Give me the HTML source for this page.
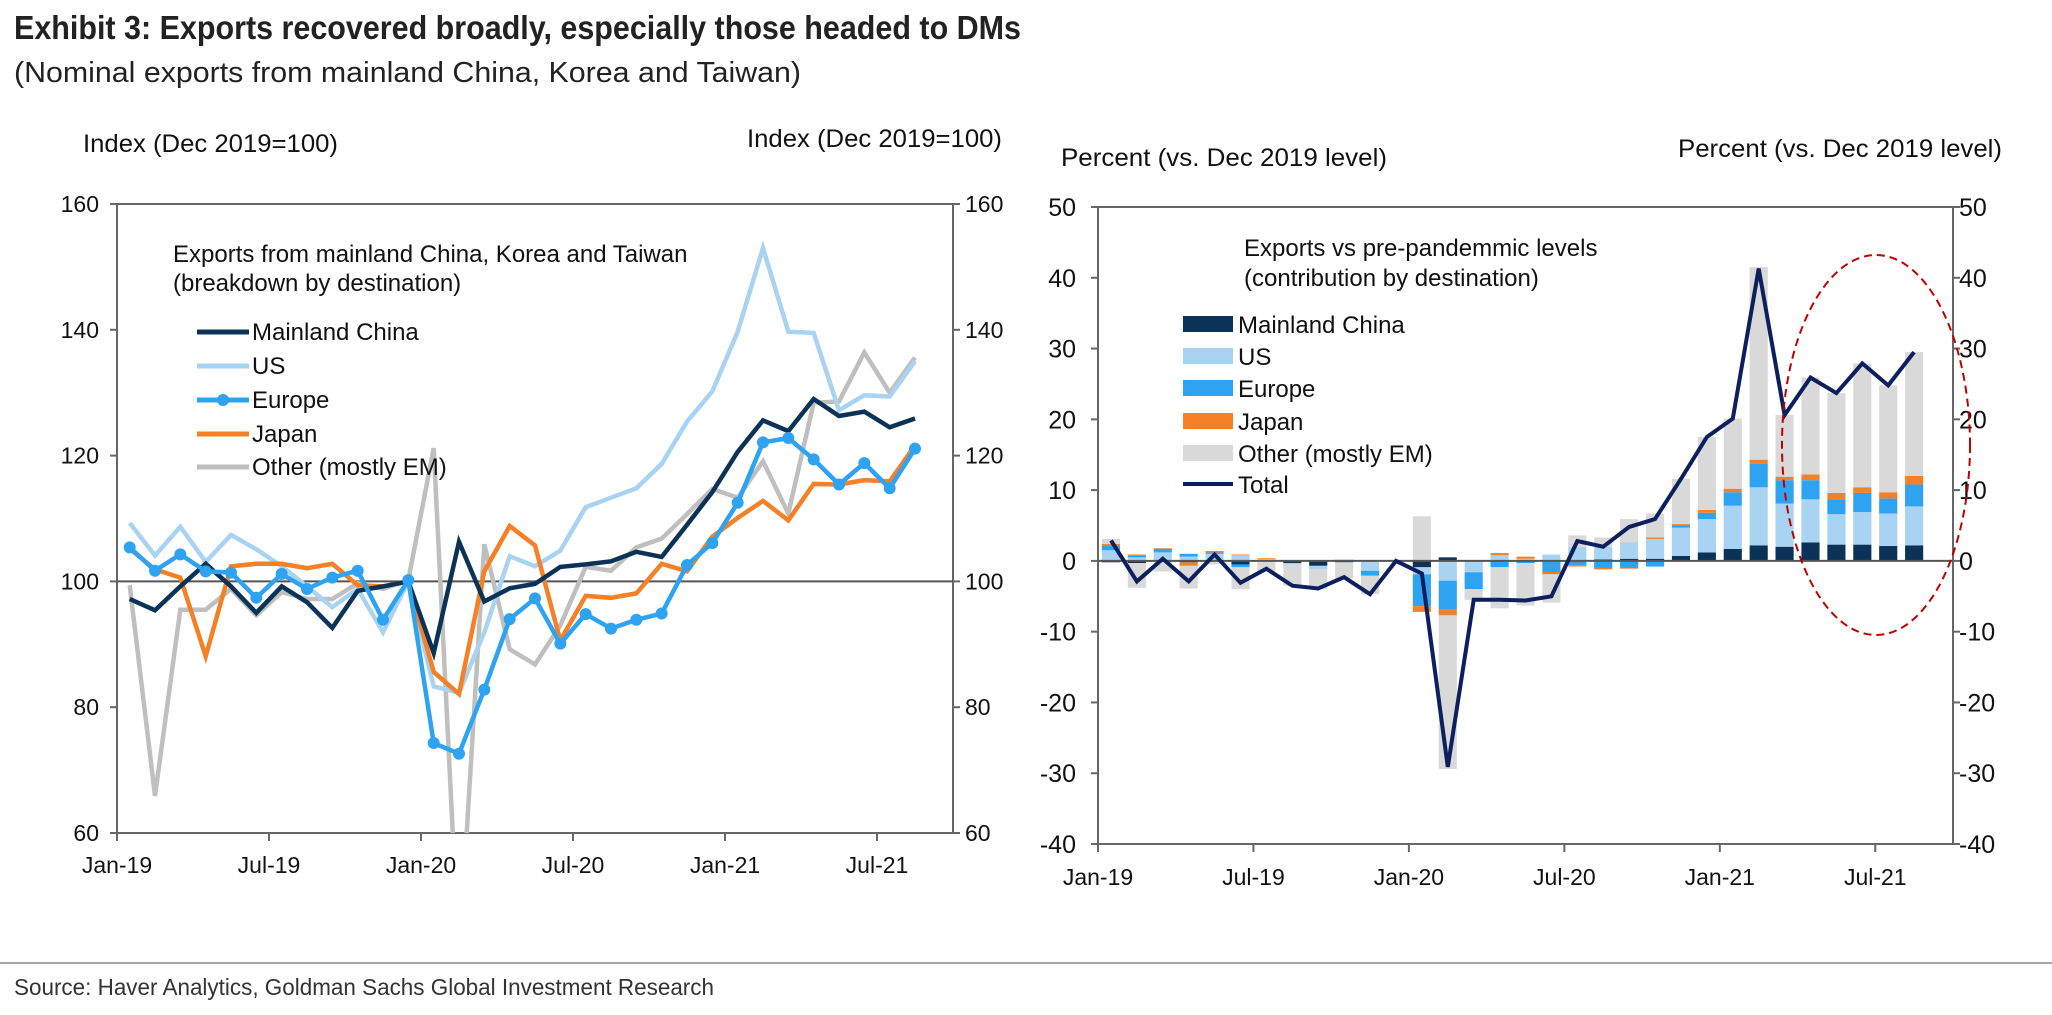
<!DOCTYPE html>
<html><head><meta charset="utf-8"><style>
html,body{margin:0;padding:0;background:#fff;}
svg{display:block;font-family:"Liberation Sans Narrow","Liberation Sans",Arial,sans-serif;}
</style></head><body>
<svg id="chart" width="2052" height="1015" viewBox="0 0 2052 1015" xmlns="http://www.w3.org/2000/svg">
<text x="14" y="39" font-size="33" font-weight="bold" fill="#222" textLength="1007" lengthAdjust="spacingAndGlyphs">Exhibit 3: Exports recovered broadly, especially those headed to DMs</text>
<text x="14" y="82" font-size="29" fill="#222" textLength="787" lengthAdjust="spacingAndGlyphs">(Nominal exports from mainland China, Korea and Taiwan)</text>
<text x="83" y="152" font-size="25" fill="#111" textLength="255" lengthAdjust="spacingAndGlyphs">Index (Dec 2019=100)</text>
<text x="747" y="147" font-size="25" fill="#111" textLength="255" lengthAdjust="spacingAndGlyphs">Index (Dec 2019=100)</text>
<text x="1061" y="166" font-size="25" fill="#111" textLength="326" lengthAdjust="spacingAndGlyphs">Percent (vs. Dec 2019 level)</text>
<text x="1678" y="157" font-size="25" fill="#111" textLength="324" lengthAdjust="spacingAndGlyphs">Percent (vs. Dec 2019 level)</text>
<line x1="0" y1="963" x2="2052" y2="963" stroke="#888" stroke-width="1.5"/>
<text x="14" y="995" font-size="23" fill="#333" textLength="700" lengthAdjust="spacingAndGlyphs">Source: Haver Analytics, Goldman Sachs Global Investment Research</text>
<g id="left"></g>
<g id="right"></g>
</svg>
<script>
const months = ["Jan-19","Feb-19","Mar-19","Apr-19","May-19","Jun-19","Jul-19","Aug-19","Sep-19","Oct-19","Nov-19","Dec-19","Jan-20","Feb-20","Mar-20","Apr-20","May-20","Jun-20","Jul-20","Aug-20","Sep-20","Oct-20","Nov-20","Dec-20","Jan-21","Feb-21","Mar-21","Apr-21","May-21","Jun-21","Jul-21","Aug-21"];
const xTickLabels = ["Jan-19","Jul-19","Jan-20","Jul-20","Jan-21","Jul-21"];
const leftTicks = [60,80,100,120,140,160];
const rightTicks = [-40,-30,-20,-10,0,10,20,30,40,50];
const idxChina = [97.2,95.4,99.2,102.8,99.2,95.0,99.2,96.7,92.6,98.5,99.2,100,88.6,106.3,96.8,98.9,99.6,102.3,102.7,103.2,104.7,103.9,109.0,114.2,120.6,125.6,123.9,129.0,126.3,127.0,124.5,125.9];
const idxUS = [109.3,104.1,108.7,103.1,107.4,105.1,102.4,99.2,95.9,98.8,91.9,100,83.3,82.3,91.9,104.0,102.4,104.9,111.8,113.3,114.8,118.7,125.4,130.2,139.7,153.0,139.7,139.5,127.2,129.6,129.4,135.0];
const idxEurope = [105.4,101.7,104.3,101.6,101.4,97.4,101.2,98.8,100.6,101.7,93.9,100.2,74.3,72.6,82.8,94.0,97.3,90.1,94.8,92.5,93.9,94.9,102.6,106.1,112.5,122.1,122.8,119.4,115.4,118.8,114.8,121.1];
const idxJapan = [105.2,101.9,100.6,88.1,102.4,102.8,102.8,102.1,102.8,99.4,99.2,100,85.6,82.1,101.6,108.8,105.7,90.6,97.7,97.4,98.1,102.8,101.6,107.1,110.1,112.8,109.7,115.5,115.4,116.1,115.9,121.6];
const idxOther = [99.4,65.9,95.5,95.5,98.8,94.6,98.3,97.2,97.2,99.7,98.8,100.2,121.2,40,105.9,89.2,86.8,93.0,102.3,101.7,105.4,106.8,110.7,114.7,113.3,119.1,110.8,128.4,128.6,136.4,130.0,135.6];
const cChina = [-0.2,-0.3,0,-0.2,0,-0.5,0,-0.3,-0.7,-0.2,0,0,-0.9,0.5,-0.1,0,0,0,0,0.2,0.3,0.3,0.7,1.2,1.7,2.2,2.0,2.6,2.3,2.3,2.1,2.2];
const cUS = [1.5,0.5,1.2,0.6,1.0,0.8,0.3,-0.2,-0.5,0.2,-1.4,0,-1.0,-2.8,-1.5,0.8,0.3,0.9,2.0,1.8,2.3,2.8,4.0,4.7,6.1,8.2,6.1,6.1,4.3,4.6,4.6,5.5];
const cEurope = [0.6,0.3,0.5,0.4,0.2,-0.4,0,0,0,0,-0.7,0,-4.5,-4.0,-2.4,-0.9,-0.3,-1.5,-0.6,-1.0,-1.0,-0.8,0.3,0.9,1.9,3.3,3.3,2.7,2.1,2.7,2.1,3.1];
const cJapan = [0.3,0.1,0.1,-0.5,0.2,0.1,0.1,0,0.1,0,0,0,-0.8,-0.9,0,0.3,0.3,-0.4,-0.2,-0.2,-0.1,0.2,0.2,0.4,0.5,0.6,0.5,0.8,0.9,0.8,0.9,1.2];
const cOther = [0.7,-3.5,-1.5,-3.2,-0.5,-3.1,-1.5,-3.0,-2.8,-2.3,-2.6,0,6.3,-21.7,-1.5,-5.8,-6.0,-4.0,1.6,1.3,3.3,3.4,6.4,10.3,9.9,27.2,8.7,13.7,14.1,17.5,15.1,17.5];
const cTotal = [2.9,-2.9,0.3,-2.9,0.9,-3.1,-1.1,-3.5,-3.9,-2.3,-4.7,0,-1.8,-29.1,-5.5,-5.5,-5.6,-5.0,2.8,2.0,4.8,5.9,11.6,17.5,20.1,41.3,20.6,25.9,23.7,27.9,24.8,29.5];

const NS="http://www.w3.org/2000/svg";
function mk(parent,tag,attrs,txt){const e=document.createElementNS(NS,tag);for(const k in attrs)e.setAttribute(k,attrs[k]);if(txt!==undefined)e.textContent=txt;parent.appendChild(e);return e;}
const NM=33;

// LEFT CHART
(function(){
const g=document.getElementById('left');
const L=117,R=953,T=204,B=833,ymin=60,ymax=160;
const mw=(R-L)/NM;
const x=i=>L+(i+0.5)*mw;
const y=v=>B-(v-ymin)/(ymax-ymin)*(B-T);
const clip=mk(g,'clipPath',{id:'lclip'});
mk(clip,'rect',{x:L,y:T,width:R-L,height:B-T});
let e=mk(g,'rect',{x:L,y:T,width:R-L,height:B-T,fill:'none',stroke:'#666','stroke-width':2});


e=mk(g,'line',{x1:L,x2:R,y1:y(100),y2:y(100),stroke:'#555','stroke-width':2});


leftTicks.forEach(v=>{
  mk(g,'line',{x1:L-7,x2:L,y1:y(v),y2:y(v),stroke:'#666','stroke-width':2});
  mk(g,'line',{x1:R,x2:R+7,y1:y(v),y2:y(v),stroke:'#666','stroke-width':2});
  e=mk(g,'text',{x:L-18,y:y(v)+8,'font-size':23,'text-anchor':'end',fill:'#111'},String(v));
  
  
  e=mk(g,'text',{x:R+12,y:y(v)+8,'font-size':23,'text-anchor':'start',fill:'#111'},String(v));
  
  
});
xTickLabels.forEach(lab=>{
  const i=months.indexOf(lab);const xx=L+i*mw;
  mk(g,'line',{x1:xx,x2:xx,y1:B,y2:B+8,stroke:'#666','stroke-width':2});
  e=mk(g,'text',{x:xx,y:B+40,'font-size':23,'text-anchor':'middle',fill:'#111'},lab);
  
  
});
const series=[["other",idxOther,"#bfbfbf"],["us",idxUS,"#a9d3f2"],["japan",idxJapan,"#f58025"],["china",idxChina,"#0b3358"],["europe",idxEurope,"#2ea3f2"]];
series.forEach(([n,d,c])=>{
  const pts=d.map((v,i)=>x(i).toFixed(1)+','+y(v).toFixed(1)).join(' ');
  e=mk(g,'polyline',{points:pts,fill:'none',stroke:c,'stroke-width':4.5,'stroke-linejoin':'miter','clip-path':'url(#lclip)'});
  
  
  if(n==='europe'){d.forEach((v,i)=>{
    e=mk(g,'circle',{cx:x(i),cy:y(v),r:6,fill:c});
    
    
  });}
});
e=mk(g,'text',{x:173,y:262,'font-size':24,fill:'#111'},'Exports from mainland China, Korea and Taiwan');


e=mk(g,'text',{x:173,y:291,'font-size':24,fill:'#111'},'(breakdown by destination)');


const leg=[["Mainland China","#0b3358"],["US","#a9d3f2"],["Europe","#2ea3f2"],["Japan","#f58025"],["Other (mostly EM)","#bfbfbf"]];
const ly=[332,366,400,434,467];
leg.forEach(([t,c],k)=>{
  const lg=mk(g,'g',{});
  
  
  mk(lg,'line',{x1:197,x2:249,y1:ly[k],y2:ly[k],stroke:c,'stroke-width':5});
  if(t==='Europe')mk(lg,'circle',{cx:223,cy:ly[k],r:6,fill:c});
  mk(lg,'text',{x:252,y:ly[k]+8,'font-size':24,fill:'#111'},t);
});
})();

// RIGHT CHART
(function(){
const g=document.getElementById('right');
const L=1098,R=1953,T=207,B=844,ymin=-40,ymax=50;
const mw=(R-L)/NM;
const x=i=>L+(i+0.5)*mw;
const y=v=>B-(v-ymin)/(ymax-ymin)*(B-T);
const bw=mw*0.7;
let e;
const stacks=[["china",cChina,"#0b3358"],["us",cUS,"#a9d3f2"],["europe",cEurope,"#2ea3f2"],["japan",cJapan,"#f58025"],["other",cOther,"#d9d9d9"]];
months.forEach((m,i)=>{
  let pos=0,neg=0;
  stacks.forEach(([n,d,c])=>{
    const v=d[i];if(v===0)return;
    let y0,y1;
    if(v>0){y0=pos;y1=pos+v;pos=y1;}else{y0=neg;y1=neg+v;neg=y1;}
    e=mk(g,'rect',{x:x(i)-bw/2,y:Math.min(y(y0),y(y1)),width:bw,height:Math.abs(y(y1)-y(y0)),fill:c});
    
    
  });
});
e=mk(g,'rect',{x:L,y:T,width:R-L,height:B-T,fill:'none',stroke:'#666','stroke-width':2});


e=mk(g,'line',{x1:L,x2:R,y1:y(0),y2:y(0),stroke:'#555','stroke-width':2});


rightTicks.forEach(v=>{
  mk(g,'line',{x1:L-7,x2:L,y1:y(v),y2:y(v),stroke:'#666','stroke-width':2});
  mk(g,'line',{x1:R,x2:R+7,y1:y(v),y2:y(v),stroke:'#666','stroke-width':2});
  e=mk(g,'text',{x:L-22,y:y(v)+9,'font-size':25,'text-anchor':'end',fill:'#111'},String(v));
  
  
  e=mk(g,'text',{x:R+6,y:y(v)+9,'font-size':25,'text-anchor':'start',fill:'#111'},String(v));
  
  
});
xTickLabels.forEach(lab=>{
  const i=months.indexOf(lab);const xx=L+i*mw;
  mk(g,'line',{x1:xx,x2:xx,y1:B,y2:B+8,stroke:'#666','stroke-width':2});
  e=mk(g,'text',{x:xx,y:B+41,'font-size':23,'text-anchor':'middle',fill:'#111'},lab);
  
  
});
const pts=cTotal.map((v,i)=>x(i).toFixed(1)+','+y(v).toFixed(1)).join(' ');
e=mk(g,'polyline',{points:pts,fill:'none',stroke:'#0d1f5c','stroke-width':4,'stroke-linejoin':'miter'});


e=mk(g,'ellipse',{cx:1876,cy:445,rx:94,ry:190,fill:'none',stroke:'#c00000','stroke-width':2,'stroke-dasharray':'8,5'});


e=mk(g,'text',{x:1244,y:256,'font-size':24,fill:'#111'},'Exports vs pre-pandemmic levels');


e=mk(g,'text',{x:1244,y:286,'font-size':24,fill:'#111'},'(contribution by destination)');


const leg=[["Mainland China","#0b3358"],["US","#a9d3f2"],["Europe","#2ea3f2"],["Japan","#f58025"],["Other (mostly EM)","#d9d9d9"],["Total","#0d1f5c"]];
const ly=[324,356,388,421,453,484];
leg.forEach(([t,c],k)=>{
  const lg=mk(g,'g',{});
  
  
  if(t==='Total')mk(lg,'line',{x1:1183,x2:1233,y1:ly[k],y2:ly[k],stroke:c,'stroke-width':4});
  else mk(lg,'rect',{x:1183,y:ly[k]-8,width:50,height:16,fill:c});
  mk(lg,'text',{x:1238,y:ly[k]+9,'font-size':24,fill:'#111'},t);
});
})();
</script>
</body></html>
